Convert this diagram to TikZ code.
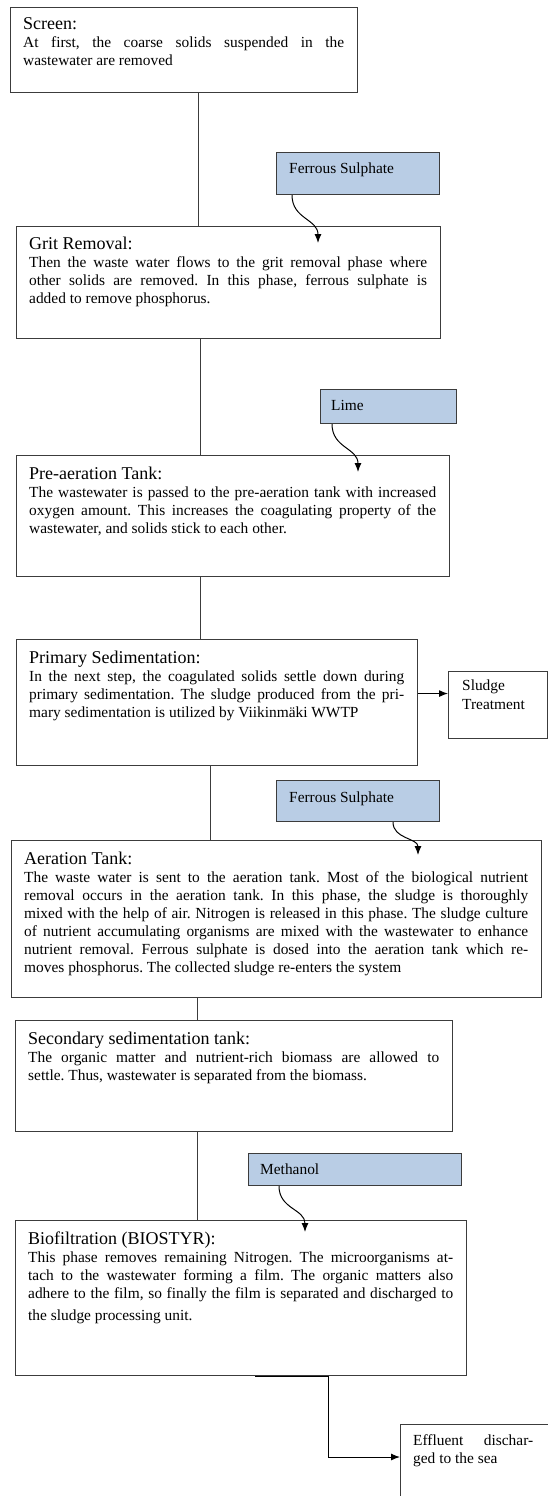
\documentclass[tikz,border=0pt]{standalone}
\usepackage{fontspec}
\setmainfont{Liberation Serif}
\usetikzlibrary{calc,arrows.meta}
\definecolor{edge}{RGB}{60,60,60}
\definecolor{chem}{RGB}{185,205,229}
\newcommand\headfont{\fontsize{18}{19}\selectfont}
\newcommand\bodyfont{\fontsize{15.4}{18}\selectfont}

\begin{document}
\frenchspacing
\begin{tikzpicture}[x=1pt,y=-1pt,
  stepbox/.style={draw=edge, line width=1.1pt, anchor=north west, inner sep=0pt, fill=white},
  chembox/.style={draw=edge, line width=1.1pt, anchor=north west, inner sep=0pt, fill=chem},
  steptext/.style={anchor=base west, inner sep=0pt, align=justify, font=\bodyfont,
    execute at begin node={\tolerance=9999\emergencystretch=0pt\frenchspacing}},
  plaintext/.style={anchor=base west, inner sep=0pt, font=\bodyfont},
  flow/.style={draw=edge, line width=1pt},
  feed/.style={draw=black, line width=1pt, -{Latex[length=9pt,width=7pt]}},
]
\useasboundingbox (0,0) rectangle (548,1496);

% process stages
\node[stepbox, minimum width=347pt, minimum height=85pt]  (screen) at (10,7) {};
\node[stepbox, minimum width=424pt, minimum height=112pt] (grit)   at (16,226) {};
\node[stepbox, minimum width=433pt, minimum height=121pt] (pre)    at (16,455) {};
\node[stepbox, minimum width=401pt, minimum height=126pt] (prim)   at (16,639) {};
\node[stepbox, minimum width=99pt,  minimum height=67pt]  (sludge) at (448,671) {};
\node[stepbox, minimum width=530pt, minimum height=157pt] (aer)    at (11,840) {};
\node[stepbox, minimum width=437pt, minimum height=111pt] (sec)    at (15,1020) {};
\node[stepbox, minimum width=451pt, minimum height=155pt] (bio)    at (15,1220) {};
\node[stepbox, minimum width=149pt, minimum height=80pt]  (eff)    at (400,1424) {};

% dosed chemicals
\node[chembox, minimum width=163pt, minimum height=42pt] (fs1)  at (276,152) {};
\node[chembox, minimum width=136pt, minimum height=34pt] (lime) at (320,389) {};
\node[chembox, minimum width=163pt, minimum height=41pt] (fs2)  at (276,780) {};
\node[chembox, minimum width=213pt, minimum height=32pt] (meth) at (248,1153) {};

% stage texts
\node[steptext, text width=321pt] (screen-t) at ($(screen.north west)+(13,23)$)
  {\headfont Screen:\par\bodyfont At first, the coarse solids suspended in the\linebreak wastewater are removed};
\node[steptext, text width=398pt] (grit-t) at ($(grit.north west)+(13,23)$)
  {\headfont Grit Removal:\par\bodyfont Then the waste water flows to the grit removal phase where\linebreak other solids are removed. In this phase, ferrous sulphate is\linebreak added to remove phosphorus.};
\node[steptext, text width=407pt] (pre-t) at ($(pre.north west)+(13,24)$)
  {\headfont Pre-aeration Tank:\par\bodyfont The wastewater is passed to the pre-aeration tank with increased\linebreak oxygen amount. This increases the coagulating property of the\linebreak wastewater, and solids stick to each other.};
\node[steptext, text width=375pt] (prim-t) at ($(prim.north west)+(13,24)$)
  {\headfont Primary Sedimentation:\par\bodyfont In the next step, the coagulated solids settle down during\linebreak primary sedimentation. The sludge produced from the pri-\linebreak mary sedimentation is utilized by Viikinmäki WWTP};
\node[steptext, text width=504pt] (aer-t) at ($(aer.north west)+(13,24)$)
  {\headfont Aeration Tank:\par\bodyfont The waste water is sent to the aeration tank. Most of the biological nutrient\linebreak removal occurs in the aeration tank. In this phase, the sludge is thoroughly\linebreak mixed with the help of air. Nitrogen is released in this phase. The sludge culture\linebreak of nutrient accumulating organisms are mixed with the wastewater to enhance\linebreak nutrient removal. Ferrous sulphate is dosed into the aeration tank which re-\linebreak moves phosphorus. The collected sludge re-enters the system};
\node[steptext, text width=411pt] (sec-t) at ($(sec.north west)+(13,24)$)
  {\headfont Secondary sedimentation tank:\par\bodyfont The organic matter and nutrient-rich biomass are allowed to\linebreak settle. Thus, wastewater is separated from the biomass.};
\node[steptext, text width=425pt] (bio-t) at ($(bio.north west)+(13,24)$)
  {\headfont Biofiltration (BIOSTYR):\par\bodyfont This phase removes remaining Nitrogen. The microorganisms at-\linebreak tach to the wastewater forming a film. The organic matters also\linebreak adhere to the film, so finally the film is separated and discharged to\vspace{4pt}\linebreak the sludge processing unit.};
\node[plaintext, text width=80pt, align=left] (sludge-t) at ($(sludge.north west)+(14,19)$) {Sludge\\[1pt]Treatment};
\node[steptext, text width=120pt] (eff-t) at ($(eff.north west)+(13,21)$) {Effluent dischar-\linebreak ged to the sea};

% chemical labels
\node[plaintext] (fs1-t)  at ($(fs1.north west)+(13,21)$)  {Ferrous Sulphate};
\node[plaintext] (lime-t) at ($(lime.north west)+(11,21)$) {Lime};
\node[plaintext] (fs2-t)  at ($(fs2.north west)+(13,22)$)  {Ferrous Sulphate};
\node[plaintext] (meth-t) at ($(meth.north west)+(12,21)$) {Methanol};

% main flow between stages
\draw[flow] ([xshift=188pt]screen.south west) -- ([xshift=182pt]grit.north west);
\draw[flow] ([xshift=184pt]grit.south west) -- ([xshift=184pt]pre.north west);
\draw[flow] ([xshift=184pt]pre.south west) -- ([xshift=184pt]prim.north west);
\draw[flow] ([xshift=194pt]prim.south west) -- ([xshift=199pt]aer.north west);
\draw[flow] ([xshift=186pt]aer.south west) -- ([xshift=182pt]sec.north west);
\draw[flow] ([xshift=182pt]sec.south west) -- ([xshift=182pt]bio.north west);

% side outputs
\coordinate (sl) at ([yshift=9pt]prim.east);
\draw[feed] (sl) -- (sl -| sludge.west);
\coordinate (ef) at ($(eff.north west)+(0,33)$);
\draw[feed] ([xshift=240pt]bio.south west) -- ([xshift=313pt]bio.south west) |- (ef);

% chemical dosing
\coordinate (fs1-in)  at ($(grit.north west)+(302,17)$);
\coordinate (lime-in) at ($(pre.north west)+(342,17)$);
\coordinate (fs2-in)  at ($(aer.north west)+(407,15)$);
\coordinate (meth-in) at ($(bio.north west)+(290,12)$);
\draw[feed] ([xshift=16pt]fs1.south west) .. controls +(0,24) and +(0,-24) .. (fs1-in);
\draw[feed] ([xshift=12pt]lime.south west) .. controls +(0,24) and +(0,-24) .. (lime-in);
\draw[feed] ([xshift=117pt]fs2.south west) .. controls +(0,17) and +(0,-17) .. (fs2-in);
\draw[feed] ([xshift=31pt]meth.south west) .. controls +(0,23) and +(0,-23) .. (meth-in);
\end{tikzpicture}
\end{document}
